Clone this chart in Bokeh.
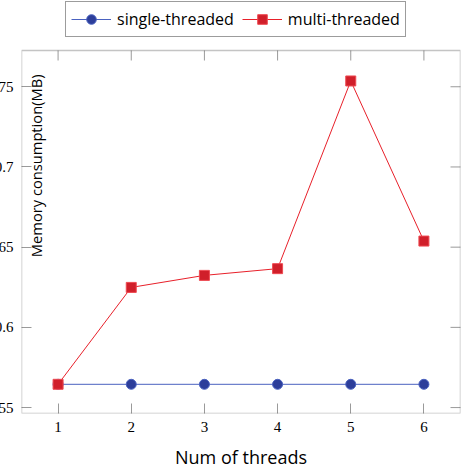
from bokeh.plotting import figure
from bokeh.models import Legend, LegendItem, FixedTicker, Label, BoxAnnotation
from bokeh.embed import file_html
from bokeh.resources import INLINE

# ---- data ----
threads = [1, 2, 3, 4, 5, 6]
single_threaded = [0.5645, 0.5645, 0.5645, 0.5645, 0.5645, 0.5645]
multi_threaded = [0.5645, 0.6249, 0.6324, 0.6366, 0.7536, 0.6538]
x_ticks = [1, 2, 3, 4, 5, 6]
y_ticks = [0.55, 0.6, 0.65, 0.7, 0.75]
y_tick_labels = ["0.55", "0.6", "0.65", "0.7", "0.75"]
series_names = ["single-threaded", "multi-threaded"]
x_title = "Num of threads"
y_title = "Memory consumption(MB)"

X_MIN, X_MAX = 0.5, 6.5
Y_MIN, Y_MAX = 0.5463, 0.7726

SANS = "Open Sans"
SERIF = "Liberation Serif"
FRAME = "#3a3a3a"
TICK = "#9a9a9a"
FW, PLOT_H, TOP_PAD = 439, 363, 49
FH = PLOT_H + TOP_PAD
Y_TOP = Y_MAX + (Y_MAX - Y_MIN) * TOP_PAD / PLOT_H   # room for the legend
TICK_DY = (Y_MAX - Y_MIN) / PLOT_H * 10              # 10px inward tick

p = figure(frame_width=FW, frame_height=FH,
           x_range=(X_MIN, X_MAX), y_range=(Y_MIN, Y_TOP),
           output_backend="svg", toolbar_location=None,
           min_border=0, min_border_right=3,
           margin=(1, 0, -15, -16))
p.outline_line_color = None
p.grid.visible = False
p.background_fill_color = "white"
p.border_fill_color = "white"

def style_axis(ax, ticks):
    ax.ticker = FixedTicker(ticks=ticks)
    ax.major_tick_in = 10
    ax.major_tick_out = 0
    ax.minor_tick_line_color = None
    ax.major_tick_line_color = TICK
    ax.major_tick_line_width = 1
    ax.axis_line_color = None
    ax.major_label_text_font = SERIF
    ax.major_label_text_font_size = "15px"
    ax.major_label_text_color = "black"
    ax.major_label_standoff = 8

xa = p.xaxis[0]
style_axis(xa, x_ticks)
xa.axis_label = x_title
xa.axis_label_text_font = SANS
xa.axis_label_text_font_style = "normal"
xa.axis_label_text_font_size = "18px"
xa.axis_label_text_color = "black"
xa.axis_label_standoff = 10

ya = p.yaxis[0]
style_axis(ya, y_ticks)
ya.major_label_overrides = dict(zip(y_ticks, y_tick_labels))

# plot box
p.add_layout(BoxAnnotation(left=X_MIN, right=X_MAX, bottom=Y_MIN, top=Y_MAX,
                           fill_alpha=0, line_color=FRAME, line_width=1.5))

# mirrored inward ticks on top and right edges
p.segment(x0=x_ticks, y0=[Y_MAX] * len(x_ticks), x1=x_ticks,
          y1=[Y_MAX - TICK_DY] * len(x_ticks), line_color=TICK, line_width=1)
p.scatter([X_MAX] * len(y_ticks), y_ticks, marker="dash",
          size=20, line_color=TICK, line_width=1)

r1l = p.line(threads, single_threaded, line_color="#4a62c0", line_width=1)
r1m = p.scatter(threads, single_threaded, marker="circle", size=10,
                fill_color="#2d3e9a", line_color="#4a62c0", line_width=1)
r2l = p.line(threads, multi_threaded, line_color="#e8202a", line_width=1)
r2m = p.scatter(threads, multi_threaded, marker="square", size=10,
                fill_color="#d01f2a", line_color="#ee4a52", line_width=1)

legend = Legend(items=[LegendItem(label=series_names[0], renderers=[r1l, r1m]),
                       LegendItem(label=series_names[1], renderers=[r2l, r2m])],
                orientation="horizontal", location=(44, PLOT_H + 13))
legend.label_text_font = SANS
legend.label_text_font_size = "16px"
legend.label_text_color = "black"
legend.glyph_width = 40
legend.glyph_height = 24
legend.label_standoff = 6
legend.spacing = 8
legend.padding = 5
legend.margin = 0
legend.border_line_color = FRAME
legend.border_line_width = 1
legend.background_fill_alpha = 1
p.add_layout(legend)

ylab = Label(x=0.83, y=0.7007, text=y_title, angle=1.5707963,
             text_align="center", text_baseline="bottom",
             text_font=SANS, text_font_size="14.7px", text_color="black")
p.add_layout(ylab)

open("out.html", "w").write(file_html(p, INLINE))
